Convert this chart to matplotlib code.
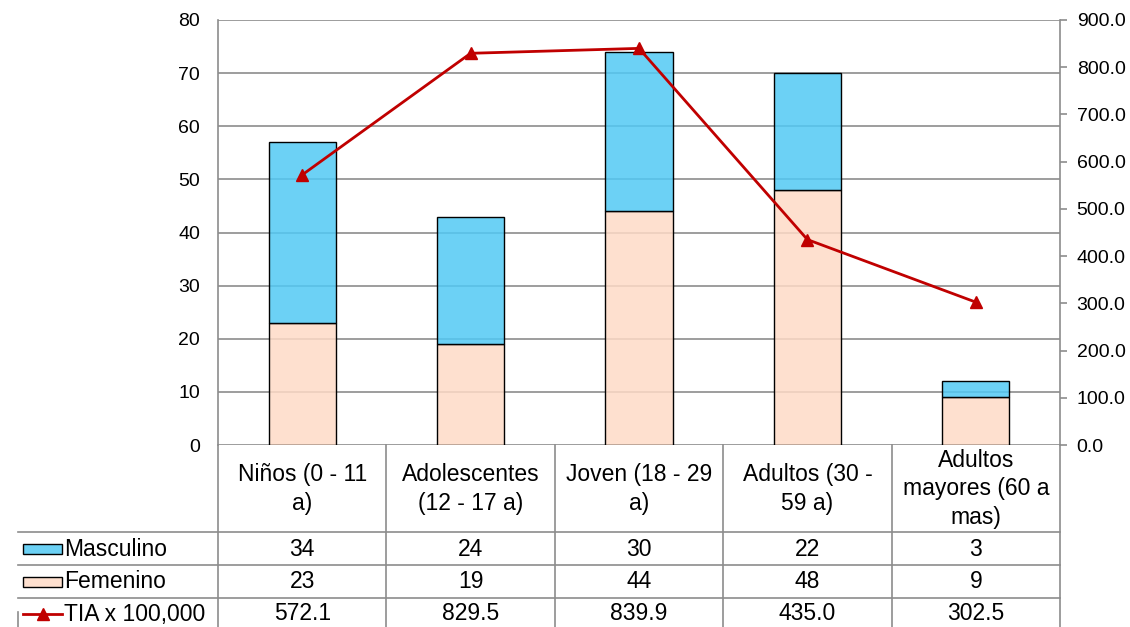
import matplotlib.pyplot as plt
from matplotlib.lines import Line2D
from matplotlib.patches import Rectangle

plt.rcParams['font.family'] = ['Liberation Sans', 'DejaVu Sans']

# Casos por grupo de edad y tasa de incidencia
grupos = ['Niños (0 - 11\na)', 'Adolescentes\n(12 - 17 a)', 'Joven (18 - 29\na)',
          'Adultos (30 -\n59 a)', 'Adultos\nmayores (60 a\nmas)']
masculino = [34, 24, 30, 22, 3]
femenino = [23, 19, 44, 48, 9]
tia = [572.1, 829.5, 839.9, 435.0, 302.5]

azul = (0.32, 0.79, 0.955, 0.85)
durazno = (0.995, 0.86, 0.78, 0.85)
rojo = '#C00000'
gris = '#8C8C8C'

W, H = 1130, 627
fig = plt.figure(figsize=(W / 100, H / 100), dpi=100)
ax = fig.add_axes([218 / W, 1 - 445 / H, 842 / W, 425 / H])

x = list(range(len(grupos)))
ax.set_axisbelow(True)
ax.yaxis.grid(True, color=gris, lw=1.2)
ax.bar(x, femenino, width=0.4, color=durazno, edgecolor='black', lw=1)
ax.bar(x, masculino, width=0.4, bottom=femenino, color=azul, edgecolor='black', lw=1)
ax.set_xlim(-0.5, len(grupos) - 0.5)
ax.set_ylim(0, 80)
ax.set_yticks(range(0, 81, 10))
ax.set_xticks([])
ax.tick_params(axis='y', length=0, labelsize=14, pad=13)
for s in ['top', 'right', 'bottom']:
    ax.spines[s].set_visible(False)
ax.spines['left'].set_color(gris)
ax.spines['left'].set_linewidth(1.2)

ax2 = ax.twinx()
ax2.plot(x, tia, color=rojo, lw=2, marker='^', ms=8)
ax2.set_ylim(0, 900)
ax2.set_yticks(range(0, 901, 100))
ax2.set_yticklabels([f'{v:.1f}' for v in range(0, 901, 100)])
ax2.tick_params(axis='y', length=5, width=1.2, color=gris, labelsize=14, pad=7)
for s in ['top', 'left', 'bottom']:
    ax2.spines[s].set_visible(False)
ax2.spines['right'].set_color(gris)
ax2.spines['right'].set_linewidth(1.2)

# Tabla de datos bajo el grafico (coordenadas en pixeles)
def fx(px):
    return px / W

def fy(py):
    return 1 - py / H

col_edges = [218 + i * 168.4 for i in range(len(grupos) + 1)]
filas = [445, 532, 565, 598, 627]
tl = dict(color=gris, lw=1.2, transform=fig.transFigure)

for xe in col_edges:
    fig.add_artist(Line2D([fx(xe)] * 2, [fy(445), fy(627)], **tl))
for ye in filas[1:4]:
    fig.add_artist(Line2D([fx(18), fx(col_edges[-1])], [fy(ye)] * 2, **tl))
fig.add_artist(Line2D([fx(18)] * 2, [fy(612), fy(627)], **tl))

fs = 16.5
for i, g in enumerate(grupos):
    cx = fx((col_edges[i] + col_edges[i + 1]) / 2)
    fig.text(cx, fy(489), g, ha='center', va='center', fontsize=fs, linespacing=1.32)
    fig.text(cx, fy(549), str(masculino[i]), ha='center', va='center', fontsize=fs)
    fig.text(cx, fy(582), str(femenino[i]), ha='center', va='center', fontsize=fs)
    fig.text(cx, fy(614), f'{tia[i]:.1f}', ha='center', va='center', fontsize=fs)

leyenda = [('Masculino', azul, 549), ('Femenino', durazno, 582)]
for nombre, c, yc in leyenda:
    fig.add_artist(Rectangle((fx(23), fy(yc + 5)), fx(39), 10 / H, facecolor=c,
                             edgecolor='black', lw=1, transform=fig.transFigure))
    fig.text(fx(64), fy(yc), nombre, ha='left', va='center', fontsize=fs)
fig.add_artist(Line2D([fx(23), fx(62)], [fy(614)] * 2, color=rojo, lw=2,
                      transform=fig.transFigure))
fig.add_artist(Line2D([fx(42.5)], [fy(614)], color=rojo, marker='^', ms=8,
                      transform=fig.transFigure))
fig.text(fx(64), fy(614), 'TIA x 100,000', ha='left', va='center', fontsize=fs)

fig.savefig('out.png', dpi=100)
